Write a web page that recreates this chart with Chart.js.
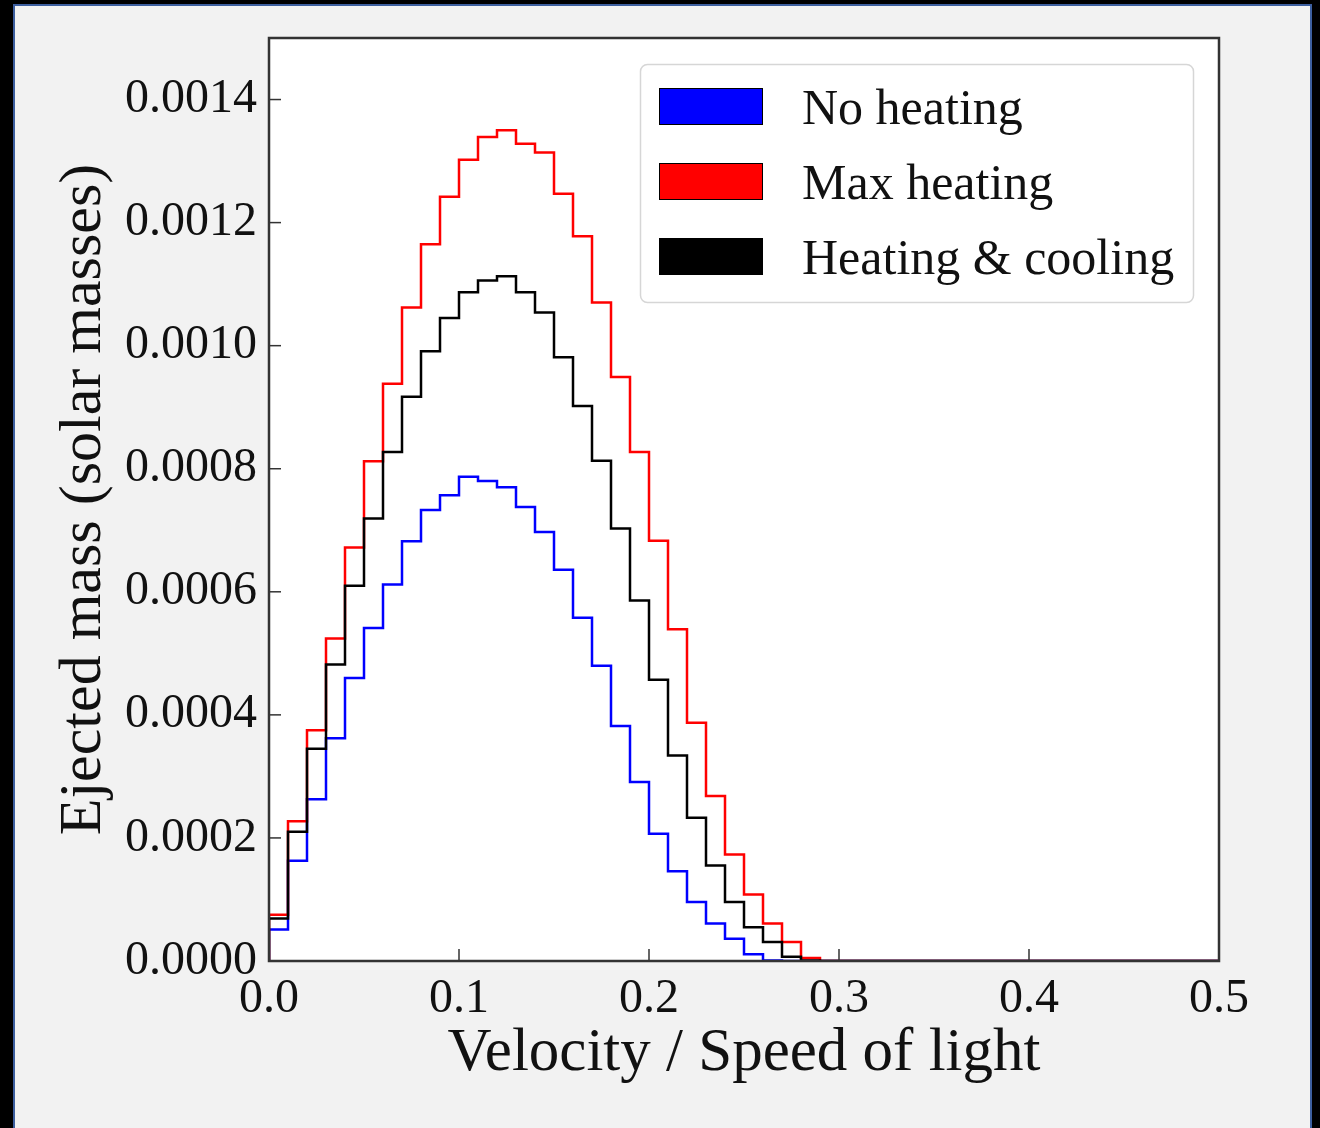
<!DOCTYPE html>
<html><head><meta charset="utf-8">
<script src="https://cdn.jsdelivr.net/npm/chart.js@4/dist/chart.umd.min.js"></script>
<style>
html,body{margin:0;padding:0;background:#000;width:1320px;height:1128px;overflow:hidden}
#panel{position:absolute;left:13px;top:4px;width:1295px;height:1140px;background:#f2f2f2;border:2px solid #3d5f9f;}
#c{position:absolute;left:0;top:0}
</style></head><body>
<div id="panel"></div>
<canvas id="c" width="1320" height="1128"></canvas>
<script>
// Histogram bin left edges (velocity / c)
const binStarts = [0.00,0.01,0.02,0.03,0.04,0.05,0.06,0.07,0.08,0.09,
                   0.10,0.11,0.12,0.13,0.14,0.15,0.16,0.17,0.18,0.19,
                   0.20,0.21,0.22,0.23,0.24,0.25,0.26,0.27,0.28,0.29,
                   0.30,0.31,0.32,0.33,0.34,0.35,0.36,0.37,0.38,0.39,
                   0.40,0.41,0.42,0.43,0.44,0.45,0.46,0.47,0.48,0.49];
const histRange = [0.0, 0.5];

// Ejected mass per bin (solar masses)
const noHeating = [0.000051,0.000163,0.000263,0.000362,0.000460,0.000541,0.000612,0.000682,0.000733,0.000757,
                   0.000787,0.000780,0.000770,0.000738,0.000697,0.000636,0.000558,0.000480,0.000382,0.000291,
                   0.000207,0.000146,0.000096,0.000061,0.000036,0.000011,0.000001,0,0,0,
                   0,0,0,0,0,0,0,0,0,0, 0,0,0,0,0,0,0,0,0,0];
const maxHeating = [0.000075,0.000227,0.000375,0.000524,0.000672,0.000812,0.000938,0.001062,0.001165,0.001242,
                    0.001302,0.001339,0.001350,0.001328,0.001314,0.001247,0.001178,0.001070,0.000949,0.000827,
                    0.000683,0.000539,0.000387,0.000268,0.000173,0.000108,0.000061,0.000031,0.000005,0,
                    0,0,0,0,0,0,0,0,0,0, 0,0,0,0,0,0,0,0,0,0];
const heatingCooling = [0.000069,0.000210,0.000345,0.000482,0.000610,0.000719,0.000827,0.000917,0.000991,0.001045,
                        0.001087,0.001106,0.001113,0.001087,0.001054,0.000981,0.000902,0.000813,0.000703,0.000586,
                        0.000457,0.000334,0.000233,0.000155,0.000096,0.000055,0.000031,0.000007,0.000001,0,
                        0,0,0,0,0,0,0,0,0,0, 0,0,0,0,0,0,0,0,0,0];

const seriesLabels = ['No heating', 'Max heating', 'Heating & cooling'];
const seriesColors = ['#0000ff', '#ff0000', '#000000'];

const xTickValues = [0.0, 0.1, 0.2, 0.3, 0.4, 0.5];
const yTickValues = [0.0000, 0.0002, 0.0004, 0.0006, 0.0008, 0.0010, 0.0012, 0.0014];
const yRange = [0, 0.0015];

const FONT = '"Liberation Serif", "DejaVu Serif", serif';

function stepPoints(vals) {
  const pts = [{x: histRange[0], y: 0}];
  binStarts.forEach((x, i) => pts.push({x: x, y: vals[i]}));
  pts.push({x: histRange[1], y: vals[vals.length - 1]});
  pts.push({x: histRange[1], y: 0});
  return pts;
}

const allSeries = [noHeating, maxHeating, heatingCooling];
const datasets = allSeries.map((vals, i) => ({
  label: seriesLabels[i],
  data: stepPoints(vals),
  borderColor: seriesColors[i],
  backgroundColor: seriesColors[i],
  borderWidth: 2.5,
  pointRadius: 0,
  fill: false,
  stepped: true,
  tension: 0,
  order: 3 - i
}));

const framePlugin = {
  id: 'frame',
  beforeDatasetsDraw(chart) {
    const {ctx, chartArea: a} = chart;
    ctx.save();
    ctx.fillStyle = '#ffffff';
    ctx.fillRect(a.left, a.top, a.right - a.left, a.bottom - a.top);
    ctx.restore();
  },
  afterDatasetsDraw(chart) {
    const {ctx, chartArea: a, scales} = chart;
    ctx.save();
    ctx.strokeStyle = '#333333';
    ctx.lineWidth = 1.5;
    const tl = 12;
    scales.x.ticks.forEach(t => {
      const px = scales.x.getPixelForValue(t.value);
      ctx.beginPath(); ctx.moveTo(px, a.bottom); ctx.lineTo(px, a.bottom - tl); ctx.stroke();
    });
    scales.y.ticks.forEach(t => {
      const py = scales.y.getPixelForValue(t.value);
      ctx.beginPath(); ctx.moveTo(a.left, py); ctx.lineTo(a.left + tl, py); ctx.stroke();
    });
    ctx.lineWidth = 2.5;
    ctx.strokeRect(a.left, a.top, a.right - a.left, a.bottom - a.top);
    ctx.restore();
  },
  afterDraw(chart) {
    const {ctx} = chart;
    ctx.save();
    ctx.beginPath();
    ctx.roundRect(640.5, 64.5, 553, 238, 7);
    ctx.fillStyle = 'rgba(255,255,255,0.9)';
    ctx.fill();
    ctx.strokeStyle = '#d6d6d6';
    ctx.lineWidth = 1.5;
    ctx.stroke();
    const rows = [88, 163, 238];
    ctx.font = '50px ' + FONT;
    ctx.textBaseline = 'alphabetic';
    ctx.textAlign = 'left';
    seriesLabels.forEach((lab, i) => {
      ctx.fillStyle = seriesColors[i];
      ctx.fillRect(659, rows[i], 103, 36);
      ctx.strokeStyle = '#000';
      ctx.lineWidth = 1;
      ctx.strokeRect(659.5, rows[i] + 0.5, 103, 36);
      ctx.fillStyle = '#111';
      ctx.fillText(lab, 802, rows[i] + 36);
    });
    ctx.restore();
  }
};

new Chart(document.getElementById('c'), {
  type: 'line',
  data: {datasets},
  options: {
    responsive: false,
    animation: false,
    devicePixelRatio: 1,
    layout: {padding: {left: 20, top: 38, right: 101, bottom: 37}},
    plugins: {legend: {display: false}, tooltip: {enabled: false}},
    scales: {
      x: {
        type: 'linear',
        min: histRange[0], max: histRange[1],
        afterBuildTicks: s => { s.ticks = xTickValues.map(v => ({value: v})); },
        afterFit: s => { s.height = 130; },
        grid: {display: false},
        border: {display: false},
        ticks: {
          autoSkip: false, maxRotation: 0, padding: 2,
          color: '#111',
          font: {family: FONT, size: 48},
          callback: v => Number(v).toFixed(1)
        },
        title: {display: true, text: 'Velocity / Speed of light', color: '#111',
                font: {family: FONT, size: 61}, padding: {top: 0, bottom: 0}}
      },
      y: {
        type: 'linear',
        min: yRange[0], max: yRange[1],
        afterBuildTicks: s => { s.ticks = yTickValues.map(v => ({value: v})); },
        afterFit: s => { s.width = 249; },
        grid: {display: false},
        border: {display: false},
        ticks: {
          autoSkip: false, padding: 4,
          color: '#111',
          font: {family: FONT, size: 48},
          callback: v => Number(v).toFixed(4)
        },
        title: {display: true, text: 'Ejected mass (solar masses)', color: '#111',
                font: {family: FONT, size: 60}, padding: {top: 28, bottom: 0}}
      }
    }
  },
  plugins: [framePlugin]
});
</script>
</body></html>
